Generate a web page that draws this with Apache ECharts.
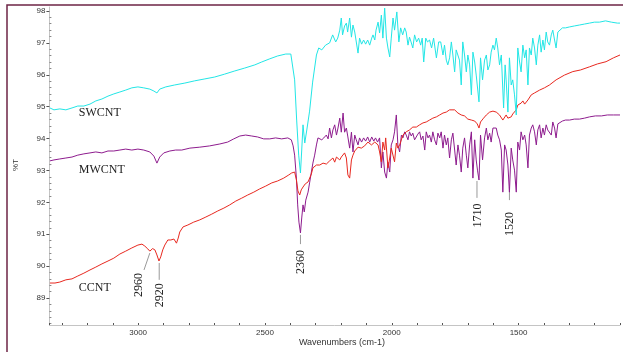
<!DOCTYPE html>
<html><head><meta charset="utf-8">
<script src="https://cdn.jsdelivr.net/npm/echarts@6/dist/echarts.min.js"></script>
<style>html,body{margin:0;padding:0;background:#fff}#c{width:623px;height:352px}</style>
</head><body><div id="c"></div>
<script>
// ---- data (wavenumber cm-1 / %T) ----
const swX = [3348,3332,3309,3285,3261,3238,3214,3190,3167,3143,3119,3096,3072,3049,3025,3001,2978,2954,2938,2926,2915,2891,2856,2816,2777,2737,2698,2659,2619,2580,2540,2513,2481,2450,2418,2398,2391,2383,2375,2367,2360,2355,2350,2343,2335,2324,2312,2297,2288,2276,2261,2245,2233,2221,2213,2205,2199,2194,2186,2179,2174,2166,2159,2153,2146,2140,2133,2127,2119,2111,2103,2095,2087,2079,2074,2067,2062,2054,2048,2041,2035,2028,2021,2015,2008,2002,1995,1989,1980,1972,1965,1957,1949,1943,1936,1930,1924,1917,1910,1902,1894,1886,1880,1874,1866,1859,1851,1843,1835,1824,1815,1807,1798,1792,1785,1779,1772,1765,1759,1752,1746,1739,1733,1726,1720,1713,1706,1700,1693,1686,1680,1673,1667,1656,1650,1642,1634,1627,1621,1614,1608,1601,1595,1588,1582,1575,1568,1559,1553,1549,1542,1536,1529,1523,1516,1509,1503,1496,1490,1483,1476,1470,1463,1457,1450,1444,1437,1430,1424,1417,1411,1404,1398,1391,1385,1378,1371,1365,1358,1352,1345,1339,1327,1315,1299,1280,1260,1240,1220,1201,1181,1157,1134,1110,1100];
const swY = [94.96,94.90,94.93,94.90,94.96,95.02,95.02,95.08,95.18,95.24,95.33,95.40,95.46,95.52,95.59,95.62,95.59,95.55,95.49,95.43,95.55,95.62,95.68,95.74,95.81,95.87,95.93,96.02,96.12,96.21,96.31,96.40,96.50,96.59,96.65,96.65,96.59,95.84,94.58,93.48,92.92,93.64,94.43,93.86,94.27,94.86,95.77,96.62,96.84,96.78,96.93,97.00,97.25,97.03,97.15,97.40,97.78,97.25,97.53,97.62,97.34,97.78,97.18,97.56,97.34,97.40,96.68,97.15,96.96,97.09,96.96,97.09,96.93,97.15,97.25,97.09,97.40,97.65,97.31,97.87,97.15,98.09,97.15,96.84,96.56,97.15,97.78,97.40,97.97,97.03,97.47,97.25,97.47,97.34,96.93,97.18,97.03,96.84,97.25,97.03,97.15,96.93,97.15,96.40,97.15,97.03,97.09,96.84,97.15,96.53,97.03,97.03,96.62,96.93,96.46,96.31,96.53,97.03,96.62,96.09,96.78,96.84,96.46,95.68,97.03,96.62,96.09,96.62,96.31,95.37,96.71,96.40,95.99,95.15,96.53,95.84,96.46,96.62,96.15,96.31,96.71,96.93,96.78,97.15,96.84,96.31,96.62,94.96,96.31,95.84,94.83,96.53,95.68,95.84,95.37,94.74,96.84,96.40,96.09,96.93,96.53,96.78,95.68,96.84,96.62,97.15,96.84,96.31,96.93,97.25,96.71,97.09,96.78,97.34,97.03,96.93,97.25,97.40,97.09,96.84,97.34,97.40,97.47,97.47,97.50,97.53,97.56,97.59,97.62,97.65,97.65,97.69,97.65,97.62,97.62];

const mwX = [3348,3332,3309,3285,3261,3238,3214,3190,3167,3143,3119,3096,3072,3049,3025,3001,2978,2954,2938,2926,2915,2899,2875,2852,2828,2796,2757,2718,2678,2647,2623,2599,2576,2552,2529,2505,2481,2458,2434,2410,2396,2389,2383,2376,2371,2366,2360,2355,2350,2345,2339,2330,2324,2317,2311,2304,2297,2291,2284,2276,2268,2258,2251,2245,2238,2232,2225,2218,2212,2205,2199,2192,2186,2179,2173,2166,2159,2153,2146,2140,2133,2127,2119,2111,2103,2095,2087,2079,2071,2064,2056,2048,2041,2035,2028,2021,2015,2008,2002,1995,1989,1982,1976,1969,1962,1956,1949,1943,1936,1930,1923,1917,1910,1903,1897,1890,1884,1877,1870,1864,1857,1851,1844,1838,1831,1824,1818,1811,1805,1798,1792,1785,1779,1772,1765,1759,1752,1746,1739,1733,1726,1720,1713,1706,1700,1693,1686,1680,1673,1667,1662,1656,1650,1642,1634,1627,1621,1614,1608,1601,1595,1588,1582,1575,1568,1562,1555,1549,1542,1536,1529,1523,1516,1509,1503,1496,1490,1483,1476,1470,1463,1457,1450,1444,1437,1430,1424,1417,1411,1404,1398,1391,1385,1378,1371,1365,1358,1352,1345,1339,1327,1315,1299,1280,1260,1240,1220,1197,1173,1150,1126,1100];
const mwY = [93.30,93.33,93.36,93.39,93.42,93.48,93.52,93.55,93.58,93.55,93.61,93.61,93.64,93.67,93.64,93.67,93.64,93.58,93.45,93.23,93.42,93.55,93.61,93.64,93.64,93.70,93.73,93.77,93.83,93.89,93.99,94.08,94.11,94.08,94.05,93.99,93.99,94.02,93.99,94.02,93.96,93.77,93.48,92.76,91.92,91.38,91.04,91.51,91.92,91.70,92.07,92.32,92.61,92.95,93.23,93.48,93.80,94.02,94.05,93.96,94.02,94.11,93.99,94.33,94.02,94.27,94.43,94.11,94.33,94.64,94.20,94.80,94.20,94.33,94.05,93.70,94.20,93.58,94.11,93.96,93.80,94.02,93.89,94.02,93.92,94.05,93.89,94.05,93.92,94.02,93.89,94.02,93.08,93.58,92.95,92.76,93.26,92.95,93.80,93.96,94.21,94.74,93.80,93.58,94.11,94.02,94.21,94.11,93.96,94.21,94.08,94.17,93.96,94.02,94.14,94.21,93.96,94.08,93.64,94.21,94.02,94.11,93.89,94.21,93.96,93.80,94.17,94.02,94.21,93.70,94.11,93.80,94.02,93.39,93.96,94.17,93.64,93.17,93.80,93.48,92.95,93.70,94.02,93.48,93.08,93.80,94.21,92.76,93.96,93.33,93.01,92.70,94.11,93.33,94.02,94.33,93.96,94.17,93.89,94.33,94.27,94.33,94.11,93.96,93.64,92.32,93.80,93.64,93.17,92.32,93.70,93.33,93.01,92.32,93.89,93.64,94.21,93.96,94.11,93.80,93.08,94.11,94.33,94.43,94.21,93.80,94.27,94.43,94.02,94.33,94.11,94.43,94.27,94.33,94.11,94.52,94.33,94.02,94.46,94.52,94.55,94.58,94.58,94.61,94.61,94.64,94.68,94.71,94.71,94.74,94.74,94.74];

const ccX = [3348,3328,3309,3285,3261,3238,3214,3190,3167,3143,3119,3096,3072,3049,3025,3001,2985,2974,2962,2954,2943,2934,2926,2918,2911,2903,2895,2883,2871,2859,2849,2842,2836,2823,2804,2781,2757,2733,2710,2686,2662,2639,2615,2592,2568,2544,2521,2497,2473,2450,2426,2406,2395,2383,2376,2370,2363,2357,2350,2341,2330,2324,2317,2311,2297,2284,2271,2258,2245,2232,2225,2218,2212,2205,2199,2192,2186,2179,2173,2166,2159,2153,2146,2133,2120,2107,2094,2080,2067,2054,2048,2041,2035,2028,2024,2015,2008,2002,1995,1989,1982,1976,1969,1956,1943,1930,1917,1903,1890,1877,1864,1851,1838,1824,1811,1798,1785,1772,1765,1752,1739,1726,1713,1700,1686,1673,1663,1656,1650,1638,1627,1614,1601,1588,1575,1562,1555,1549,1542,1536,1529,1523,1516,1509,1503,1490,1483,1476,1463,1450,1437,1417,1398,1378,1352,1319,1286,1256,1220,1189,1155,1126,1100];
const ccY = [89.47,89.47,89.50,89.57,89.60,89.69,89.78,89.88,89.97,90.07,90.16,90.25,90.38,90.47,90.57,90.66,90.69,90.63,90.54,90.47,90.55,90.51,90.35,90.16,90.29,90.51,90.66,90.82,90.82,90.85,90.72,90.88,91.07,91.23,91.29,91.38,91.45,91.54,91.63,91.73,91.82,91.92,92.04,92.13,92.23,92.32,92.42,92.51,92.61,92.67,92.76,92.86,92.92,92.95,92.70,92.36,92.23,92.39,92.48,92.58,92.64,92.70,92.89,93.08,93.17,93.17,93.23,93.20,93.30,93.39,93.26,93.42,93.45,93.33,93.42,93.48,93.55,93.39,92.86,92.76,93.33,93.48,93.61,93.73,93.70,93.77,93.89,93.80,93.89,93.80,93.58,93.27,93.89,93.64,94.02,93.08,93.39,93.70,93.64,93.27,93.86,93.70,93.80,94.11,94.21,94.27,94.36,94.36,94.43,94.49,94.52,94.58,94.64,94.68,94.74,94.80,94.83,94.90,94.96,94.90,94.80,94.74,94.71,94.61,94.58,94.55,94.46,94.33,94.52,94.64,94.74,94.83,94.86,94.83,94.74,94.58,94.64,94.74,94.64,94.58,94.68,94.77,94.83,94.90,95.05,95.11,95.18,95.08,95.21,95.37,95.43,95.52,95.59,95.68,95.84,95.99,96.10,96.15,96.25,96.34,96.41,96.53,96.62];

const seriesNames = ['SWCNT','MWCNT','CCNT'];
const yTicks = [89,90,91,92,93,94,95,96,97,98];
const xLabelStep = 500;

// peak annotations (data coordinates)
const annoText  = ['2960','2920','2360','1710','1520'];
const annoLx1   = [2954, 2917, 2360, 1664, 1536];
const annoLy1   = [90.41, 90.10, 90.98, 92.67, 92.48];
const annoLx2   = [2977, 2917, 2360, 1664, 1536];
const annoLy2   = [89.88, 89.57, 90.69, 92.14, 92.07];
const annoTx    = [2997, 2914, 2360, 1660, 1534];
const annoTy    = [89.41, 89.09, 90.13, 91.59, 91.32];
// series name labels (data coordinates of left/centre)
const nameLx = [3234, 3234, 3234];
const nameLy = [94.80, 93.01, 89.33];

const zip = (a, b) => a.map((x, i) => [x, b[i]]);
const minorTicks = [];
for (let v = 88.2; v < 98.1; v += 0.2) { const r = Math.round(v * 10) / 10; if (Math.abs(r - Math.round(r)) > 0.01) minorTicks.push(r); }

const sans = 'Liberation Sans, Arial, sans-serif';
const serif = 'Liberation Serif, Times New Roman, serif';
const chart = echarts.init(document.getElementById('c'), null, { renderer: 'canvas' });
const colors = ['#22e6e6', '#8e1c8e', '#e8281f'];
const option = {
  animation: false,
  backgroundColor: '#fff',
  grid: { left: 49.4, right: 2.1, top: 7, bottom: 27 },
  xAxis: {
    type: 'value', inverse: true, min: 1100, max: 3350, interval: 100,
    axisLine: { show: true, lineStyle: { color: '#c4c4c4', width: 1 } },
    axisTick: { show: true, inside: true, length: 2, lineStyle: { color: '#555' } },
    axisLabel: { formatter: v => (v % xLabelStep === 0 ? String(v) : ''), fontSize: 8, color: '#333', margin: 4, fontFamily: sans },
    splitLine: { show: false }
  },
  yAxis: [{
    type: 'value', min: 88.154, max: 98.125,
    axisLine: { show: true, lineStyle: { color: '#c4c4c4', width: 1 } },
    axisTick: { show: true, customValues: yTicks, length: 3, lineStyle: { color: '#555' } },
    axisLabel: { customValues: yTicks, fontSize: 8, color: '#333', margin: 4, fontFamily: sans },
    splitLine: { show: false }
  }, {
    type: 'value', min: 88.154, max: 98.125, position: 'left',
    axisLine: { show: false },
    axisTick: { show: true, inside: true, customValues: minorTicks, length: 2, lineStyle: { color: '#888' } },
    axisLabel: { show: false },
    splitLine: { show: false }
  }],
  series: [
    { name: seriesNames[1], type: 'line', data: zip(mwX, mwY), showSymbol: false, lineStyle: { width: 1, color: colors[1] }, itemStyle: { color: colors[1] }, z: 2 },
    { name: seriesNames[2], type: 'line', data: zip(ccX, ccY), showSymbol: false, lineStyle: { width: 1, color: colors[2] }, itemStyle: { color: colors[2] }, z: 3 },
    { name: seriesNames[0], type: 'line', data: zip(swX, swY), showSymbol: false, lineStyle: { width: 1, color: colors[0] }, itemStyle: { color: colors[0] }, z: 4 }
  ]
};
chart.setOption(option);

const px = (x, y) => chart.convertToPixel({ gridIndex: 0 }, [x, y]);
const g = [];
g.push({ type: 'rect', shape: { x: 7, y: 5, width: 700, height: 400 }, style: { fill: 'none', stroke: '#6e2446', lineWidth: 1.5 }, silent: true });
g.push({ type: 'text', x: 16, y: 165, rotation: Math.PI / 2, style: { text: '%T', fontSize: 8, fontFamily: sans, fill: '#333', align: 'center', verticalAlign: 'middle' } });
g.push({ type: 'text', x: 342, y: 343, style: { text: 'Wavenumbers (cm-1)', fontSize: 9, fontFamily: sans, fill: '#333', align: 'center', verticalAlign: 'middle' } });
const orderIdx = [0, 1, 2];
orderIdx.forEach(i => {
  const p = px(nameLx[i], nameLy[i]);
  g.push({ type: 'text', x: p[0], y: p[1], style: { text: seriesNames[i], fontSize: 12, fontFamily: serif, fill: '#222', align: 'left', verticalAlign: 'middle' } });
});
annoText.forEach((t, i) => {
  const a = px(annoLx1[i], annoLy1[i]), b = px(annoLx2[i], annoLy2[i]), c = px(annoTx[i], annoTy[i]);
  g.push({ type: 'line', shape: { x1: a[0], y1: a[1], x2: b[0], y2: b[1] }, style: { stroke: '#9a9a9a', lineWidth: 1 } });
  g.push({ type: 'text', x: c[0], y: c[1], rotation: Math.PI / 2, style: { text: t, fontSize: 12, fontFamily: serif, fill: '#222', align: 'center', verticalAlign: 'middle' } });
});
chart.setOption({ graphic: g });
</script>
</body></html>
